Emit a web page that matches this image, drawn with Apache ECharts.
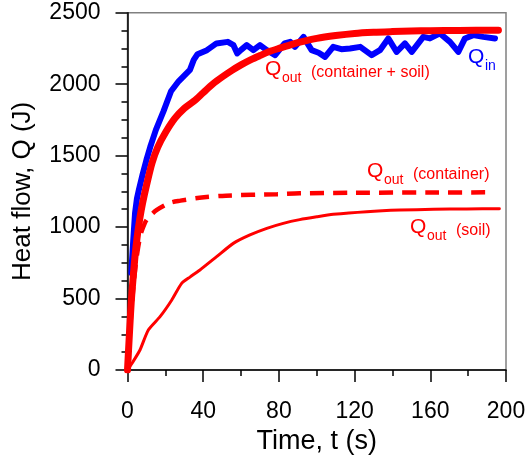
<!DOCTYPE html>
<html>
<head>
<meta charset="utf-8">
<script src="https://cdn.jsdelivr.net/npm/echarts@6/dist/echarts.min.js"></script>
<style>
  html, body { margin: 0; padding: 0; background: #fff; }
  #chart { width: 531px; height: 455px; }
</style>
</head>
<body>
<div id="chart"></div>
<script>
// [time (s), heat (J)]
var qInData = [
    [2, 680], [3, 900], [4, 1100], [5, 1200], [6, 1260], [8, 1370], [10, 1470], [12, 1560],
    [15, 1680], [19, 1810], [23, 1950], [27, 2020], [30, 2060], [33, 2100], [35, 2170],
    [37, 2210], [42, 2238], [47, 2285], [53, 2296], [56, 2273], [58, 2215], [60, 2240],
    [63, 2273], [66.5, 2238], [70, 2273], [73.6, 2238], [78, 2203], [83, 2285], [86, 2296],
    [88.5, 2261], [93, 2331], [97.3, 2238], [101, 2220], [104.4, 2191], [108.7, 2261],
    [113, 2245], [117.6, 2250], [123, 2261], [129, 2203], [133.4, 2238], [137.8, 2320],
    [142.2, 2226], [146.6, 2285], [150.2, 2226], [156.3, 2331], [159.8, 2320], [165.1, 2355],
    [170.4, 2296], [174.8, 2226], [178.3, 2320], [182.7, 2343], [188, 2331], [194.2, 2320]
];
var qTotalData = [
    [0, 0], [1, 250], [2, 480], [3, 650], [4, 800], [5, 920], [6.5, 1060], [8, 1170],
    [10, 1290], [13, 1450], [16, 1560], [20, 1660], [25, 1760], [30, 1830], [35, 1880],
    [40, 1940], [45, 2000], [50, 2050], [55, 2095], [60, 2135], [65, 2170], [70, 2200],
    [75, 2228], [80, 2250], [85, 2270], [90, 2290], [100, 2320], [110, 2340], [120, 2355],
    [130, 2363], [140, 2368], [150, 2372], [160, 2374], [175, 2376], [196, 2378]
];
var qContainerData = [
    [0, 0], [2, 400], [4, 700], [6.6, 930], [9.2, 1030], [11, 1065], [15.5, 1120],
    [22.5, 1170], [28, 1185], [38, 1205], [52, 1220], [79, 1230], [91, 1236], [120, 1240],
    [160, 1242], [190, 1243]
];
var qSoilData = [
    [0, 0], [3, 60], [6.6, 140], [11, 280], [17.2, 373], [23.4, 490], [28.6, 606], [33, 650],
    [38.3, 700], [47.1, 793], [55.9, 886], [64.7, 945], [73.6, 991], [82.3, 1026], [91, 1052],
    [100, 1072], [108.7, 1089], [126.4, 1108], [144, 1119], [161.6, 1124], [179.2, 1127],
    [196.5, 1128]
];

var chart = echarts.init(document.getElementById('chart'));
var font = '"Liberation Sans", Arial, sans-serif';
var red = '#ff0000';
var blue = '#0000ff';

// Q + subscript + optional note in brackets
function label(x, y, main, sub, extra, color) {
    return [
        { type: 'text', left: x, top: y - 11, z: 100,
          style: { text: main, fill: color, font: '21px ' + font } },
        { type: 'text', left: x + 17, top: y + 1, z: 100,
          style: { text: sub, fill: color, font: '14px ' + font } },
        extra ? { type: 'text', left: x + 46, top: y - 5, z: 100,
          style: { text: extra, fill: color, font: '16px ' + font } } : null
    ].filter(Boolean);
}

var graphics = []
    .concat(label(265, 70, 'Q', 'out', '(container + soil)', red))
    .concat(label(468, 58, 'Q', 'in', null, blue))
    .concat(label(367, 172, 'Q', 'out', '(container)', red))
    .concat(label(410, 228, 'Q', 'out', '(soil)', red));

var tickStyle = { color: '#000', width: 1.5 };

var option = {
    animation: false,
    grid: {
        left: 127.5, right: 25, top: 12.7, bottom: 85,
        outerBoundsMode: 'none', containLabel: false,
        show: true, borderColor: '#808080', borderWidth: 1.5
    },
    xAxis: {
        type: 'value', min: 0, max: 200, interval: 40,
        name: 'Time, t (s)', nameLocation: 'middle', nameGap: 53,
        nameTextStyle: { color: '#000', fontSize: 27, fontFamily: font },
        axisLine: { lineStyle: tickStyle },
        axisTick: { inside: false, length: 12, lineStyle: tickStyle },
        minorTick: { show: true, splitNumber: 2, length: 6, lineStyle: tickStyle },
        axisLabel: { color: '#000', fontSize: 23, fontFamily: font, margin: 30 },
        splitLine: { show: false }
    },
    yAxis: {
        type: 'value', min: 0, max: 2500, interval: 500,
        name: 'Heat flow, Q (J)', nameLocation: 'middle', nameGap: 92,
        nameTextStyle: { color: '#000', fontSize: 26, fontFamily: font },
        axisLine: { show: true, lineStyle: tickStyle },
        axisTick: { show: true, inside: false, length: 12, lineStyle: tickStyle },
        minorTick: { show: true, splitNumber: 4, length: 6, lineStyle: tickStyle },
        axisLabel: {
            color: '#000', fontSize: 23, fontFamily: font, margin: 27,
            formatter: function (v) { return String(v); }
        },
        splitLine: { show: false }
    },
    series: [
        {
            name: 'Q in', type: 'line', data: qInData, symbol: 'none',
            lineStyle: { color: blue, width: 6, join: 'round', cap: 'round' }
        },
        {
            name: 'Q out (container)', type: 'line', data: qContainerData, symbol: 'none', smooth: 0.3,
            lineStyle: { color: red, width: 4.5, type: [14, 9] }
        },
        {
            name: 'Q out (soil)', type: 'line', data: qSoilData, symbol: 'none', smooth: 0.2,
            lineStyle: { color: red, width: 3, cap: 'round' }
        },
        {
            name: 'Q out (container + soil)', type: 'line', data: qTotalData, symbol: 'none', smooth: 0.3,
            lineStyle: { color: red, width: 7, cap: 'round' }
        }
    ],
    graphic: graphics
};
chart.setOption(option);
</script>
</body>
</html>
